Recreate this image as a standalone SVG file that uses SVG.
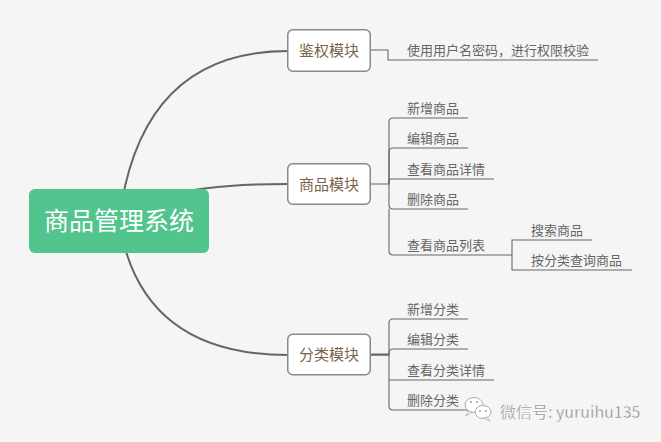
<svg xmlns="http://www.w3.org/2000/svg" width="661" height="442" viewBox="0 0 661 442">
<style>
.curve{fill:none;stroke:#666;stroke-width:2}
.br{fill:none;stroke:#666;stroke-width:1.1}
.mod rect{fill:#fff;stroke:#8a8a8a;stroke-width:1.5}
.mod text{font-family:"Noto Sans CJK SC","Microsoft YaHei",sans-serif;font-size:15px;fill:#7a6247;text-anchor:middle}
.leaf{font-family:"Noto Sans CJK SC","Microsoft YaHei",sans-serif;font-size:13px;fill:#666}
</style>
<rect width="661" height="442" fill="#f5f5f5"/>
<g id="connectors">
  <path class="curve" d="M119,221 Q140,51 288,51"/>
  <path class="curve" d="M119,221 Q150,184 288,184"/>
  <path class="curve" d="M119,221 Q140,355 288,355"/>
  <path class="br" d="M370,50 H388 V60 H598"/>
  <path class="br" d="M370,184 H389 V122 Q389,118 393,118 H468"/>
  <path class="br" d="M389,184 V152 Q389,148 393,148 H468"/>
  <path class="br" d="M389,184 V181 Q389,179 391,179 H494"/>
  <path class="br" d="M389,184 V205 Q389,209 393,209 H468"/>
  <path class="br" d="M389,209 V251 Q389,255 393,255 H512"/>
  <path class="br" d="M512,255 V240 H592"/>
  <path class="br" d="M512,255 V270 H632"/>
  <path class="br" d="M370,355 H389 V323 Q389,319 393,319 H468" style="stroke-width:1.1"/>
  <path class="br" d="M370,354.5 H389" style="stroke-width:2"/>
  <path class="br" d="M389,355 V353 Q389,349 393,349 H468"/>
  <path class="br" d="M389,355 V380 H494"/>
  <path class="br" d="M389,380 V406 Q389,410 393,410 H468"/>
</g>
<g id="root">
  <rect x="29" y="189" width="180" height="64" rx="6" fill="#52c48d"/>
  <text x="119" y="229.5" text-anchor="middle" font-family="'Noto Sans CJK SC','Microsoft YaHei',sans-serif" font-size="25" fill="#fff">商品管理系统</text>
</g>
<g id="auth" class="mod">
  <rect x="287.75" y="29.75" width="82.5" height="41.5" rx="5"/>
  <text x="329" y="56">鉴权模块</text>
</g>
<g id="goods" class="mod">
  <rect x="287.75" y="163.75" width="82.5" height="40.5" rx="5"/>
  <text x="329" y="190">商品模块</text>
</g>
<g id="category" class="mod">
  <rect x="287.75" y="334.25" width="82.5" height="40.5" rx="5"/>
  <text x="329" y="360">分类模块</text>
</g>
<g id="leaf-auth"><text class="leaf" x="407" y="55">使用用户名密码，进行权限校验</text></g>
<g id="leaf-g1"><text class="leaf" x="407" y="113">新增商品</text></g>
<g id="leaf-g2"><text class="leaf" x="407" y="143">编辑商品</text></g>
<g id="leaf-g3"><text class="leaf" x="407" y="174">查看商品详情</text></g>
<g id="leaf-g4"><text class="leaf" x="407" y="204">删除商品</text></g>
<g id="leaf-g5"><text class="leaf" x="407" y="250">查看商品列表</text></g>
<g id="leaf-g5a"><text class="leaf" x="531" y="235">搜索商品</text></g>
<g id="leaf-g5b"><text class="leaf" x="531" y="265">按分类查询商品</text></g>
<g id="leaf-c1"><text class="leaf" x="407" y="314">新增分类</text></g>
<g id="leaf-c2"><text class="leaf" x="407" y="344">编辑分类</text></g>
<g id="leaf-c3"><text class="leaf" x="407" y="375">查看分类详情</text></g>
<g id="leaf-c4"><text class="leaf" x="407" y="405">删除分类</text></g>
<g id="watermark">
  <ellipse cx="474" cy="405" rx="9" ry="7.5" fill="#fff" stroke="#aaa" stroke-width="1"/>
  <path d="M468,411 L466,416 L472,412 Z" fill="#fff" stroke="#aaa" stroke-width="0.8"/>
  <ellipse cx="483" cy="412" rx="8" ry="6.5" fill="#fff" stroke="#aaa" stroke-width="1"/>
  <path d="M487,417 L490,421 L484,418 Z" fill="#fff" stroke="#aaa" stroke-width="0.8"/>
  <circle cx="471" cy="402" r="1" fill="#999"/>
  <circle cx="477" cy="402" r="1" fill="#999"/>
  <circle cx="480" cy="411" r="0.9" fill="#999"/>
  <circle cx="486" cy="411" r="0.9" fill="#999"/>
  <text x="500" y="418" font-family="'Noto Sans CJK SC','Microsoft YaHei',sans-serif" font-size="16" fill="#8a8a8a" stroke="#fff" stroke-width="0.3">微信号: yuruihu135</text>
</g>
</svg>
